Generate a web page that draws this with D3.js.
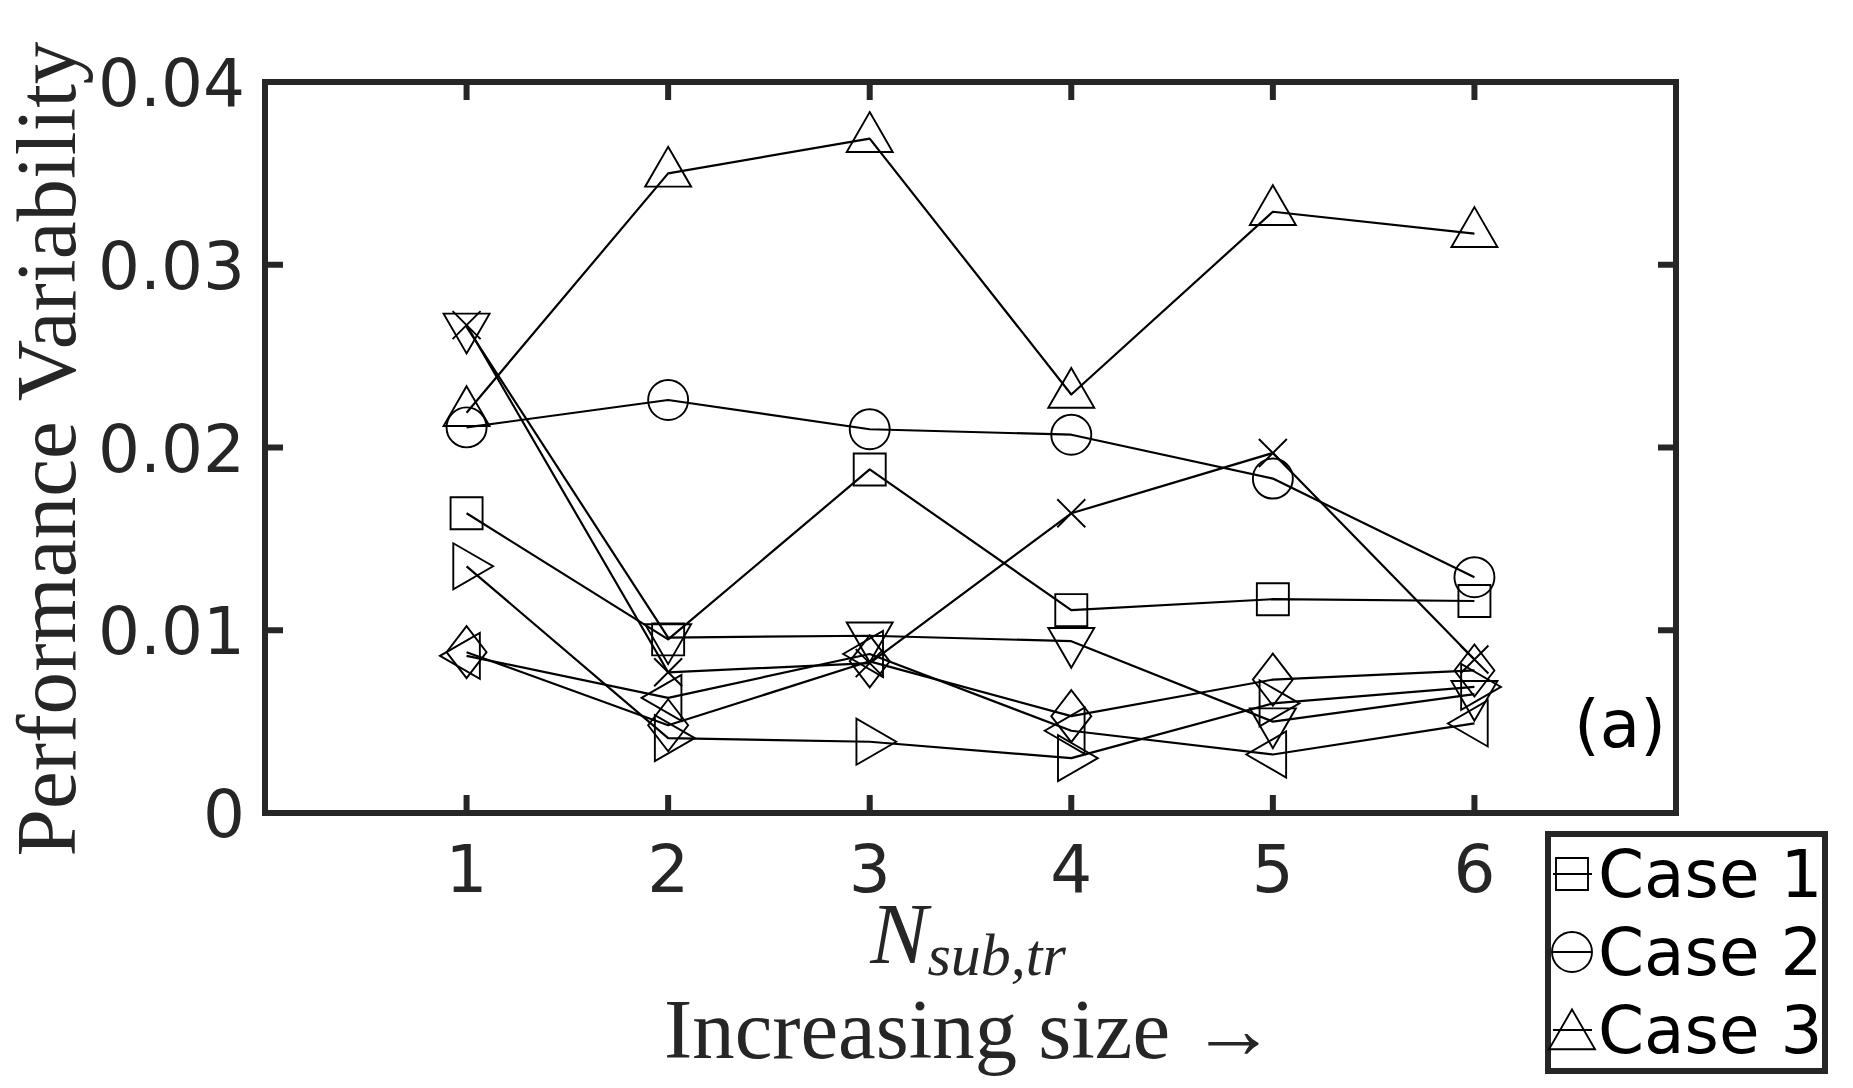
<!DOCTYPE html>
<html>
<head>
<meta charset="utf-8">
<script src="https://cdn.jsdelivr.net/npm/d3@7"></script>
<style>
  html, body { margin: 0; padding: 0; background: #fff; }
  svg { display: block; }
</style>
</head>
<body>
<svg id="chart" width="1853" height="1088"></svg>
<script>
// ---------------- data ----------------
const xValues = [1, 2, 3, 4, 5, 6];
const xTickLabels = ["1", "2", "3", "4", "5", "6"];
const yTickValues = [0, 0.01, 0.02, 0.03, 0.04];
const yTickLabels = ["0", "0.01", "0.02", "0.03", "0.04"];

const case1Square   = [0.0164, 0.0095, 0.0188, 0.0111, 0.0117, 0.0116];
const case2Circle   = [0.0211, 0.0226, 0.0210, 0.0207, 0.0183, 0.0129];
const case3Triangle = [0.0219, 0.0350, 0.0369, 0.0229, 0.0329, 0.0317];
const case4Down     = [0.0266, 0.0096, 0.0097, 0.0094, 0.0050, 0.0065];
const case5Cross    = [0.0267, 0.0077, 0.0082, 0.0164, 0.0197, 0.0084];
const case6Diamond  = [0.0088, 0.0048, 0.0083, 0.0053, 0.0073, 0.0078];
const case7Right    = [0.0135, 0.0041, 0.0039, 0.0030, 0.0060, 0.0069];
const case8Left     = [0.0086, 0.0063, 0.0087, 0.0045, 0.0032, 0.0049];

const seriesValues = [case1Square, case2Circle, case3Triangle, case4Down,
                      case5Cross, case6Diamond, case7Right, case8Left];
const seriesMarkers = ["square", "circle", "up", "down", "cross", "diamond", "right", "left"];
const legendLabels = ["Case 1", "Case 2", "Case 3"];
const legendMarkers = ["square", "circle", "up"];

// ---------------- layout ----------------
const svg = d3.select("#chart");
const L = 265, R = 1676, T = 82, B = 813;
const axisColor = "#262626";
const x = d3.scaleLinear().domain([0, 7]).range([L, R]);
const y = d3.scaleLinear().domain([0, 0.04]).range([B, T]);

function markerPath(type) {
  const s = 46, h = s * Math.sqrt(3) / 2;
  switch (type) {
    case "square": { const a = 16; return `M${-a},${-a}H${a}V${a}H${-a}Z`; }
    case "circle": { const r = 20; return `M${r},0A${r},${r} 0 1,1 ${-r},0A${r},${r} 0 1,1 ${r},0Z`; }
    case "up":    return `M0,${-2*h/3}L${s/2},${h/3}L${-s/2},${h/3}Z`;
    case "down":  return `M0,${2*h/3}L${s/2},${-h/3}L${-s/2},${-h/3}Z`;
    case "right": return `M${2*h/3},0L${-h/3},${s/2}L${-h/3},${-s/2}Z`;
    case "left":  return `M${-2*h/3},0L${h/3},${s/2}L${h/3},${-s/2}Z`;
    case "diamond": return `M0,-26L20,0L0,26L-20,0Z`;
    case "cross": { const c = 14; return `M${-c},${-c}L${c},${c}M${-c},${c}L${c},${-c}`; }
  }
}

// ---------------- axes box & ticks ----------------
const tickLen = 18;
const g = svg.append("g");

xValues.forEach(v => {
  g.append("line").attr("x1", x(v)).attr("x2", x(v)).attr("y1", B).attr("y2", B - tickLen)
    .attr("stroke", axisColor).attr("stroke-width", 6);
  g.append("line").attr("x1", x(v)).attr("x2", x(v)).attr("y1", T).attr("y2", T + tickLen)
    .attr("stroke", axisColor).attr("stroke-width", 6);
});
yTickValues.forEach(v => {
  g.append("line").attr("x1", L).attr("x2", L + tickLen).attr("y1", y(v)).attr("y2", y(v))
    .attr("stroke", axisColor).attr("stroke-width", 6);
  g.append("line").attr("x1", R).attr("x2", R - tickLen).attr("y1", y(v)).attr("y2", y(v))
    .attr("stroke", axisColor).attr("stroke-width", 6);
});

xValues.forEach((v, i) => {
  svg.append("text").attr("x", x(v)).attr("y", 892).attr("text-anchor", "middle")
    .attr("font-family", "DejaVu Sans").attr("font-size", 66).attr("fill", axisColor)
    .text(xTickLabels[i]);
});
yTickValues.forEach((v, i) => {
  svg.append("text").attr("x", 245).attr("y", y(v) + 24).attr("text-anchor", "end")
    .attr("font-family", "DejaVu Sans").attr("font-size", 66).attr("fill", axisColor)
    .text(yTickLabels[i]);
});

// ---------------- data lines & markers ----------------
const line = d3.line().x((d, i) => x(xValues[i])).y(d => y(d));
const dataG = svg.append("g");
seriesValues.forEach((vals, si) => {
  dataG.append("path").attr("d", line(vals)).attr("fill", "none")
    .attr("stroke", "#000").attr("stroke-width", 2.2).attr("stroke-linejoin", "round");
  vals.forEach((v, i) => {
    dataG.append("path").attr("d", markerPath(seriesMarkers[si]))
      .attr("transform", `translate(${x(xValues[i])},${y(v)})`)
      .attr("fill", "none").attr("stroke", "#000").attr("stroke-width", 1.9);
  });
});

svg.append("rect").attr("x", L).attr("y", T).attr("width", R - L).attr("height", B - T)
  .attr("fill", "none").attr("stroke", axisColor).attr("stroke-width", 6);

svg.append("text").attr("x", 1666).attr("y", 747).attr("text-anchor", "end")
  .attr("font-family", "DejaVu Sans").attr("font-size", 66).attr("fill", "#000")
  .text("(a)");

// ---------------- axis labels ----------------
function fitWidth(sel, target) {
  const base = +sel.attr("font-size");
  const len = sel.node().getComputedTextLength();
  sel.attr("font-size", base * target / len);
}

const yLab = svg.append("text")
  .attr("transform", "translate(75,449) rotate(-90)")
  .attr("text-anchor", "middle")
  .attr("font-family", "Liberation Serif").attr("font-size", 80).attr("fill", axisColor)
  .text("Performance Variability");
fitWidth(yLab, 815);

const xLab = svg.append("text").attr("x", 968).attr("y", 963).attr("text-anchor", "middle")
  .attr("font-family", "Liberation Serif").attr("font-style", "italic").attr("fill", axisColor)
  .attr("font-size", 86);
xLab.append("tspan").attr("font-size", 86).text("N");
xLab.append("tspan").attr("font-size", 60).attr("dy", 12).text("sub,tr");

const xLab2 = svg.append("text").attr("x", 970).attr("y", 1058).attr("text-anchor", "middle")
  .attr("font-family", "Liberation Serif").attr("font-size", 77).attr("fill", axisColor)
  .text("Increasing size \u2192");
fitWidth(xLab2, 612);

// ---------------- legend ----------------
const lg = svg.append("g");
lg.append("rect").attr("x", 1548).attr("y", 834).attr("width", 277).attr("height", 237)
  .attr("fill", "#fff").attr("stroke", axisColor).attr("stroke-width", 6);
legendLabels.forEach((lab, i) => {
  const baseY = 897 + i * 78;
  const my = baseY - 23 + (legendMarkers[i] === "up" ? 6 : 0);
  lg.append("line").attr("x1", 1553).attr("x2", 1592).attr("y1", baseY - 23).attr("y2", baseY - 23)
    .attr("stroke", "#000").attr("stroke-width", 2.2);
  lg.append("path").attr("d", markerPath(legendMarkers[i]))
    .attr("transform", `translate(1572,${my})`)
    .attr("fill", "none").attr("stroke", "#000").attr("stroke-width", 1.9);
  lg.append("text").attr("x", 1598).attr("y", baseY)
    .attr("font-family", "DejaVu Sans").attr("font-size", 66).attr("fill", "#000")
    .text(lab);
});
</script>
</body>
</html>
